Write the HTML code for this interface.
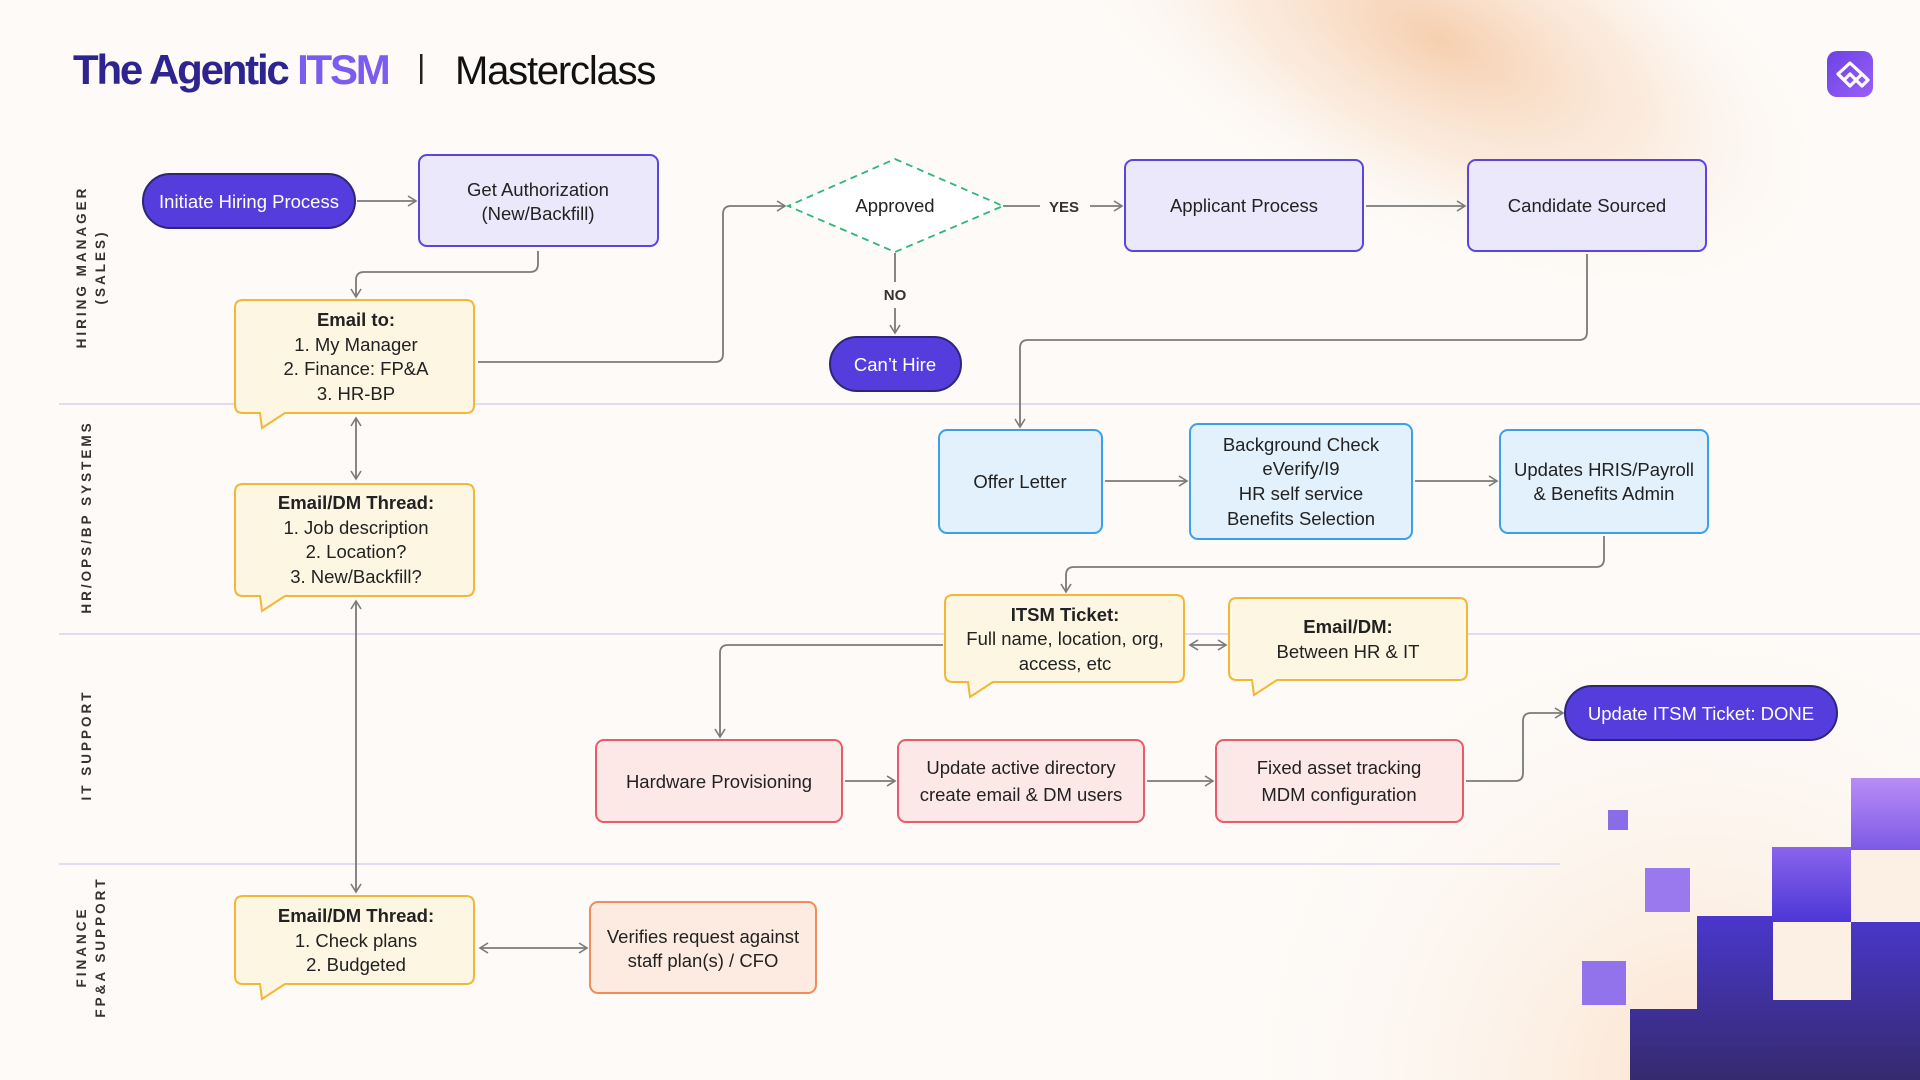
<!DOCTYPE html>
<html><head><meta charset="utf-8"><style>
html,body{margin:0;padding:0;width:1920px;height:1080px;overflow:hidden;background:#fdfaf7}
svg{display:block}
text{font-family:"Liberation Sans",sans-serif}
</style></head><body>
<svg width="1920" height="1080" viewBox="0 0 1920 1080" xmlns="http://www.w3.org/2000/svg">
<defs>
<radialGradient id="g1" cx="0" cy="0" r="1" gradientUnits="userSpaceOnUse" gradientTransform="translate(1440 40) rotate(25) scale(420 200)">
<stop offset="0" stop-color="#f5c7a2" stop-opacity="0.85"/><stop offset="0.55" stop-color="#f9dcc4" stop-opacity="0.45"/><stop offset="1" stop-color="#fdfaf7" stop-opacity="0"/></radialGradient>
<radialGradient id="g2" cx="1700" cy="1080" r="480" gradientUnits="userSpaceOnUse">
<stop offset="0" stop-color="#fbe2cc"/><stop offset="1" stop-color="#fdfaf7" stop-opacity="0"/></radialGradient>
<linearGradient id="dk" x1="0" y1="0" x2="0" y2="1"><stop offset="0" stop-color="#4a37cc"/><stop offset="1" stop-color="#352a6e"/></linearGradient>
<linearGradient id="lp" x1="0" y1="0" x2="0" y2="1"><stop offset="0" stop-color="#b98cf5"/><stop offset="1" stop-color="#7d5ae6"/></linearGradient>
<linearGradient id="mp" x1="0" y1="0" x2="0" y2="1"><stop offset="0" stop-color="#8a64ec"/><stop offset="1" stop-color="#4c36d6"/></linearGradient>
<linearGradient id="logo" x1="0" y1="0" x2="1" y2="1"><stop offset="0" stop-color="#6a42e6"/><stop offset="1" stop-color="#9a5ff5"/></linearGradient>
<marker id="ar" viewBox="0 0 12 12" refX="10" refY="6" markerWidth="12" markerHeight="12" markerUnits="userSpaceOnUse" orient="auto-start-reverse">
<path d="M2 1 L10 6 L2 11" fill="none" stroke="#7a7a7a" stroke-width="1.6"/></marker>
</defs>
<rect width="1920" height="1080" fill="#fdfaf7"/>
<rect width="1920" height="1080" fill="url(#g1)"/>
<rect width="1920" height="1080" fill="url(#g2)"/>

<text x="73" y="84" font-size="42" font-weight="bold" fill="#2e2490" letter-spacing="-2.2">The Agentic <tspan fill="#7b5cf0">ITSM</tspan></text>
<rect x="420" y="54" width="2.5" height="30" fill="#222"/>
<text x="455" y="84" font-size="40" fill="#111" letter-spacing="-1.2">Masterclass</text>
<rect x="1827" y="51" width="46" height="46" rx="10" fill="url(#logo)"/>
<g fill="none" stroke="#fff" stroke-width="3.2" stroke-linejoin="round">
<path d="M1850 63 L1862 74 L1856 80 L1850 74 L1844 80 L1838 74 Z"/>
<path d="M1838 74 L1850 86 L1856 80 M1856 80 L1862 86 L1868 80 L1862 74"/>
</g>

<g stroke="#e2dcf3" stroke-width="2">
<line x1="59" y1="404" x2="1920" y2="404"/><line x1="59" y1="634" x2="1920" y2="634"/><line x1="59" y1="864" x2="1560" y2="864"/>
</g>
<g font-size="13.5" font-weight="bold" fill="#333" letter-spacing="3" text-anchor="middle">
<text transform="translate(86,267) rotate(-90)">HIRING MANAGER</text>
<text transform="translate(105,267) rotate(-90)">(SALES)</text>
<text transform="translate(91,517) rotate(-90)">HR/OPS/BP SYSTEMS</text>
<text transform="translate(91,745) rotate(-90)">IT SUPPORT</text>
<text transform="translate(86,947) rotate(-90)">FINANCE</text>
<text transform="translate(105,947) rotate(-90)">FP&amp;A SUPPORT</text>
</g>

<rect x="1608" y="810" width="20" height="20" fill="#8a6be8"/>
<rect x="1645" y="868" width="45" height="44" fill="#9a78ee"/>
<rect x="1582" y="961" width="44" height="44" fill="#9273ec"/>
<path d="M1630 1080 L1630 1009 L1697 1009 L1697 916 L1772 916 L1772 922 L1920 922 L1920 1080 Z" fill="url(#dk)"/>
<rect x="1772" y="847" width="79" height="75" fill="url(#mp)"/>
<rect x="1773" y="922" width="78" height="78" fill="#fcefe3"/>
<rect x="1851" y="778" width="69" height="72" fill="url(#lp)"/>
<rect x="1851" y="850" width="69" height="72" fill="#fcefe3"/>

<g fill="none" stroke="#7a7a7a" stroke-width="1.8" marker-end="url(#ar)">
<path d="M357 201 H416"/>
<path d="M538 251 V264 Q538 272 530 272 H364 Q356 272 356 280 V297"/>
<path d="M478 362 H715 Q723 362 723 354 V214 Q723 206 731 206 H785"/>
<path d="M1003 206 H1040" marker-end="none"/>
<path d="M1090 206 H1122"/>
<path d="M895 253 V282" marker-end="none"/>
<path d="M895 308 V333"/>
<path d="M1366 206 H1465"/>
<path d="M1587 254 V332 Q1587 340 1579 340 H1028 Q1020 340 1020 348 V427"/>
<path d="M1105 481 H1187"/>
<path d="M1415 481 H1497"/>
<path d="M1604 536 V559 Q1604 567 1596 567 H1074 Q1066 567 1066 575 V592"/>
<path d="M943 645 H728 Q720 645 720 653 V737"/>
<path d="M1190 645 H1226" marker-start="url(#ar)"/>
<path d="M845 781 H895"/>
<path d="M1147 781 H1213"/>
<path d="M1466 781 H1515 Q1523 781 1523 773 V721 Q1523 713 1531 713 H1563"/>
<path d="M356 418 V479" marker-start="url(#ar)"/>
<path d="M356 601 V892" marker-start="url(#ar)"/>
<path d="M480 948 H587" marker-start="url(#ar)"/>
</g>
<text x="1064" y="212" font-size="15" font-weight="bold" fill="#333" text-anchor="middle">YES</text>
<text x="895" y="300" font-size="15" font-weight="bold" fill="#333" text-anchor="middle">NO</text>

<g font-size="18.5" fill="#222" text-anchor="middle">
<rect x="143" y="174" width="212" height="54" rx="27" fill="#553ddd" stroke="#2d2677" stroke-width="2"/>
<text x="249" y="208" fill="#fff">Initiate Hiring Process</text>

<rect x="419" y="155" width="239" height="91" rx="8" fill="#ebe8fb" stroke="#5b45e0" stroke-width="2"/>
<text x="538" y="196">Get Authorization</text><text x="538" y="220">(New/Backfill)</text>

<path d="M895 159 L1003 206 L895 252 L788 206 Z" fill="#fff" stroke="#2db67a" stroke-width="1.8" stroke-dasharray="7 5"/>
<text x="895" y="212">Approved</text>

<rect x="1125" y="160" width="238" height="91" rx="8" fill="#ebe8fb" stroke="#5b45e0" stroke-width="2"/>
<text x="1244" y="212">Applicant Process</text>
<rect x="1468" y="160" width="238" height="91" rx="8" fill="#ebe8fb" stroke="#5b45e0" stroke-width="2"/>
<text x="1587" y="212">Candidate Sourced</text>

<rect x="830" y="337" width="131" height="54" rx="27" fill="#553ddd" stroke="#2d2677" stroke-width="2"/>
<text x="895" y="371" fill="#fff">Can’t Hire</text>

<path d="M243 300 H466 Q474 300 474 308 V405 Q474 413 466 413 H285 L262 428 L260 413 H243 Q235 413 235 405 V308 Q235 300 243 300 Z" fill="#fdf6e3" stroke="#f2b737" stroke-width="2"/>
<text x="356" y="326" font-weight="bold">Email to:</text>
<text x="356" y="351">1. My Manager</text><text x="356" y="375">2. Finance: FP&amp;A</text><text x="356" y="400">3. HR-BP</text>

<path d="M243 484 H466 Q474 484 474 492 V588 Q474 596 466 596 H285 L262 611 L260 596 H243 Q235 596 235 588 V492 Q235 484 243 484 Z" fill="#fdf6e3" stroke="#f2b737" stroke-width="2"/>
<text x="356" y="509" font-weight="bold">Email/DM Thread:</text>
<text x="356" y="534">1. Job description</text><text x="356" y="558">2. Location?</text><text x="356" y="583">3. New/Backfill?</text>

<rect x="939" y="430" width="163" height="103" rx="8" fill="#e3f1fc" stroke="#3ba0e8" stroke-width="2"/>
<text x="1020" y="488">Offer Letter</text>
<rect x="1190" y="424" width="222" height="115" rx="8" fill="#e3f1fc" stroke="#3ba0e8" stroke-width="2"/>
<text x="1301" y="451">Background Check</text><text x="1301" y="475">eVerify/I9</text><text x="1301" y="500">HR self service</text><text x="1301" y="525">Benefits Selection</text>
<rect x="1500" y="430" width="208" height="103" rx="8" fill="#e3f1fc" stroke="#3ba0e8" stroke-width="2"/>
<text x="1604" y="476">Updates HRIS/Payroll</text><text x="1604" y="500">&amp; Benefits Admin</text>

<path d="M953 595 H1176 Q1184 595 1184 603 V674 Q1184 682 1176 682 H993 L970 697 L968 682 H953 Q945 682 945 674 V603 Q945 595 953 595 Z" fill="#fdf6e3" stroke="#f2b737" stroke-width="2"/>
<text x="1065" y="621" font-weight="bold">ITSM Ticket:</text>
<text x="1065" y="645">Full name, location, org,</text><text x="1065" y="670">access, etc</text>

<path d="M1237 598 H1459 Q1467 598 1467 606 V672 Q1467 680 1459 680 H1277 L1254 695 L1252 680 H1237 Q1229 680 1229 672 V606 Q1229 598 1237 598 Z" fill="#fdf6e3" stroke="#f2b737" stroke-width="2"/>
<text x="1348" y="633" font-weight="bold">Email/DM:</text>
<text x="1348" y="658">Between HR &amp; IT</text>

<rect x="1565" y="686" width="272" height="54" rx="27" fill="#553ddd" stroke="#2d2677" stroke-width="2"/>
<text x="1701" y="720" fill="#fff">Update ITSM Ticket: DONE</text>

<rect x="596" y="740" width="246" height="82" rx="8" fill="#fde8e8" stroke="#ea5a6a" stroke-width="2"/>
<text x="719" y="788">Hardware Provisioning</text>
<rect x="898" y="740" width="246" height="82" rx="8" fill="#fde8e8" stroke="#ea5a6a" stroke-width="2"/>
<text x="1021" y="774">Update active directory</text><text x="1021" y="801">create email &amp; DM users</text>
<rect x="1216" y="740" width="247" height="82" rx="8" fill="#fde8e8" stroke="#ea5a6a" stroke-width="2"/>
<text x="1339" y="774">Fixed asset tracking</text><text x="1339" y="801">MDM configuration</text>

<path d="M243 896 H466 Q474 896 474 904 V976 Q474 984 466 984 H285 L262 999 L260 984 H243 Q235 984 235 976 V904 Q235 896 243 896 Z" fill="#fdf6e3" stroke="#f2b737" stroke-width="2"/>
<text x="356" y="922" font-weight="bold">Email/DM Thread:</text>
<text x="356" y="947">1. Check plans</text><text x="356" y="971">2. Budgeted</text>

<rect x="590" y="902" width="226" height="91" rx="8" fill="#fdebe2" stroke="#f08c5a" stroke-width="2"/>
<text x="703" y="943">Verifies request against</text><text x="703" y="967">staff plan(s) / CFO</text>
</g>
</svg>
</body></html>
